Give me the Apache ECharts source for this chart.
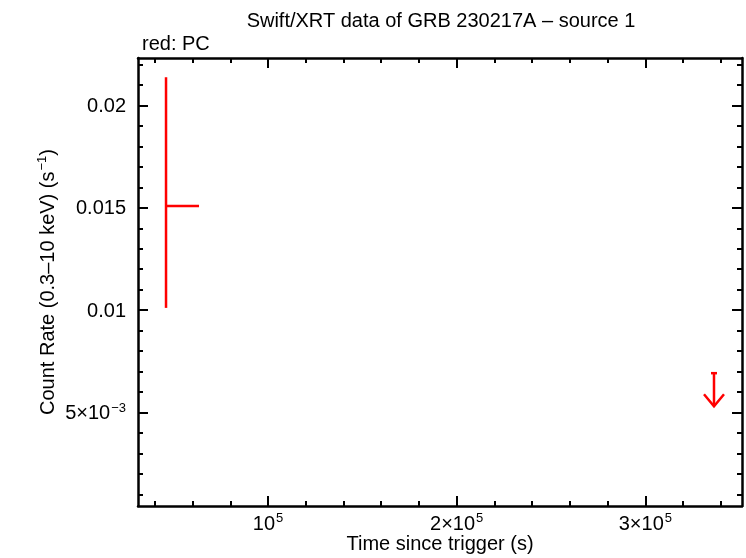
<!DOCTYPE html>
<html>
<head>
<meta charset="utf-8">
<script src="https://cdn.jsdelivr.net/npm/echarts@6/dist/echarts.min.js"></script>
<style>html,body{margin:0;padding:0;background:#fff}#c{width:746px;height:558px}</style>
</head>
<body>
<div id="c"></div>
<script>
// Data
const pcTime = [45950];
const pcTimeLow = [45950];
const pcTimeHigh = [63440];
const pcRate = [0.01509];
const pcRateLow = [0.01011];
const pcRateHigh = [0.02138];

const ulTime = [336360];
const ulRate = [0.00692];

const xMajorTicks = [100000, 200000, 300000];
const xMinorTicks = [40000, 60000, 80000, 120000, 140000, 160000, 180000, 220000, 240000, 260000, 280000, 320000, 340000];
const yMajorTicks = [0.005, 0.01, 0.015, 0.02];
const yMinorTicks = [0.001, 0.002, 0.003, 0.004, 0.006, 0.007, 0.008, 0.009, 0.011, 0.012, 0.013, 0.014, 0.016, 0.017, 0.018, 0.019, 0.021, 0.022];

const xMin = 31100, xMax = 351200;
const yMin = 0.00043, yMax = 0.02232;

const FONT = '"Liberation Sans", Arial, Helvetica, sans-serif';
const RED = '#ff0000';

const supRich = {
  b: {fontSize: 20, fontFamily: FONT, color: '#000', lineHeight: 22, verticalAlign: 'bottom'},
  s: {fontSize: 13, fontFamily: FONT, color: '#000', lineHeight: 22, verticalAlign: 'top', padding: [0, 0, 0, 1]}
};

function xFmt(v) {
  if (v === 100000) return '{b|10}{s|5}';
  return '{b|' + Math.round(v / 100000) + '×10}{s|5}';
}
function yFmt(v) {
  if (v === 0.005) return '{b|5×10}{s|−3}';
  return '{b|' + v + '}';
}

function xAxisDef(pos, ticks, len, showLine, showLabel) {
  return {
    type: 'value', position: pos, min: xMin, max: xMax,
    axisLine: {show: showLine, onZero: false, lineStyle: {color: '#000', width: 2.5}},
    axisTick: {show: true, inside: true, length: len, customValues: ticks, lineStyle: {color: '#000', width: 2}},
    axisLabel: {show: showLabel, customValues: ticks, formatter: xFmt, rich: supRich, margin: 6, color: '#000'},
    splitLine: {show: false}
  };
}
function yAxisDef(pos, ticks, len, showLine, showLabel) {
  return {
    type: 'value', position: pos, min: yMin, max: yMax,
    axisLine: {show: showLine, onZero: false, lineStyle: {color: '#000', width: 2.5}},
    axisTick: {show: true, inside: true, length: len, customValues: ticks, lineStyle: {color: '#000', width: 2}},
    axisLabel: {show: showLabel, customValues: ticks, formatter: yFmt, rich: supRich, margin: 12, color: '#000'},
    splitLine: {show: false}
  };
}

const xAxes = [
  xAxisDef('bottom', xMajorTicks, 10, true, true),
  xAxisDef('bottom', xMinorTicks, 5, false, false),
  xAxisDef('top', xMajorTicks, 10, true, false),
  xAxisDef('top', xMinorTicks, 5, false, false)
];
xAxes[0].name = 'Time since trigger (s)';
xAxes[0].nameLocation = 'middle';
xAxes[0].nameGap = 28;
xAxes[0].nameMoveOverlap = false;
xAxes[0].nameTextStyle = {fontSize: 20, fontFamily: FONT, color: '#000'};

const yAxes = [
  yAxisDef('left', yMajorTicks, 10, true, true),
  yAxisDef('left', yMinorTicks, 5, false, false),
  yAxisDef('right', yMajorTicks, 10, true, false),
  yAxisDef('right', yMinorTicks, 5, false, false)
];
yAxes[0].name = '{b|Count Rate (0.3–10 keV) (s}{s|−1}{b|)}';
yAxes[0].nameLocation = 'middle';
yAxes[0].nameGap = 80;
yAxes[0].nameMoveOverlap = false;
yAxes[0].nameTextStyle = {fontSize: 20, fontFamily: FONT, color: '#000', rich: supRich};

const pcData = pcTime.map((t, i) => [t, pcRate[i], pcTimeLow[i], pcTimeHigh[i], pcRateLow[i], pcRateHigh[i]]);
const ulData = ulTime.map((t, i) => [t, ulRate[i]]);

const chart = echarts.init(document.getElementById('c'), null, {renderer: 'canvas'});
chart.setOption({
  animation: false,
  backgroundColor: '#fff',
  textStyle: {fontFamily: FONT},
  title: [
    {text: 'Swift/XRT data of GRB 230217A – source 1', left: 436, top: 6, textAlign: 'center',
     textStyle: {fontSize: 20, fontWeight: 'normal', fontFamily: FONT, color: '#000'}},
    {text: 'red: PC', left: 137, top: 29,
     textStyle: {fontSize: 20, fontWeight: 'normal', fontFamily: FONT, color: '#000'}}
  ],
  grid: {left: 138, right: 4, top: 58, bottom: 52, containLabel: false, outerBoundsMode: 'none'},
  xAxis: xAxes,
  yAxis: yAxes,
  series: [
    {
      type: 'custom', name: 'PC', xAxisIndex: 0, yAxisIndex: 0,
      encode: {x: 0, y: 1},
      data: pcData,
      renderItem: function (params, api) {
        const x = api.value(0), y = api.value(1);
        const pTop = api.coord([x, api.value(5)]);
        const pBot = api.coord([x, api.value(4)]);
        const pL = api.coord([api.value(2), y]);
        const pR = api.coord([api.value(3), y]);
        const st = {stroke: RED, lineWidth: 2.5};
        return {type: 'group', children: [
          {type: 'line', shape: {x1: pTop[0], y1: pTop[1], x2: pBot[0], y2: pBot[1]}, style: st},
          {type: 'line', shape: {x1: pL[0], y1: pL[1], x2: pR[0], y2: pR[1]}, style: st}
        ]};
      }
    },
    {
      type: 'custom', name: 'PC upper limit', xAxisIndex: 0, yAxisIndex: 0,
      encode: {x: 0, y: 1},
      data: ulData,
      renderItem: function (params, api) {
        const p = api.coord([api.value(0), api.value(1)]);
        const st = {stroke: RED, lineWidth: 2.5};
        return {type: 'group', children: [
          {type: 'line', shape: {x1: p[0] - 3, y1: p[1], x2: p[0] + 3, y2: p[1]}, style: st},
          {type: 'line', shape: {x1: p[0], y1: p[1], x2: p[0], y2: p[1] + 33}, style: st},
          {type: 'polyline', shape: {points: [[p[0] - 10, p[1] + 21], [p[0], p[1] + 33], [p[0] + 10, p[1] + 21]]}, style: {stroke: RED, lineWidth: 2.5, fill: null}}
        ]};
      }
    }
  ]
});
</script>
</body>
</html>
